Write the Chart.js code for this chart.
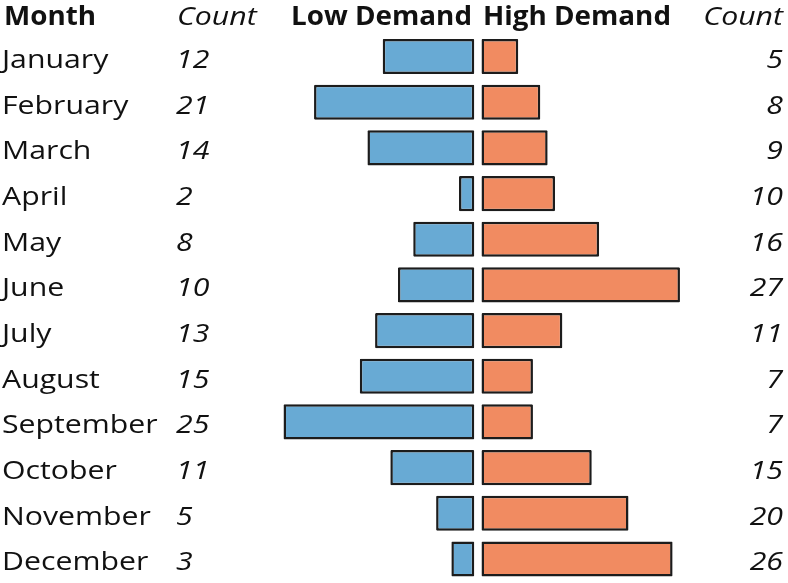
<!DOCTYPE html>
<html>
<head>
<meta charset="utf-8">
<script src="https://cdn.jsdelivr.net/npm/chart.js@4"></script>
<style>
  html, body { margin: 0; padding: 0; background: #fff; }
  #wrap { position: relative; width: 788px; height: 583px; }
</style>
</head>
<body>
<div id="wrap"><canvas id="demandChart"></canvas></div>
<script>
const months = ["January", "February", "March", "April", "May", "June", "July",
  "August", "September", "October", "November", "December"];
const lowDemand = [12, 21, 14, 2, 8, 10, 13, 15, 25, 11, 5, 3];
const highDemand = [5, 8, 9, 10, 16, 27, 11, 7, 7, 15, 20, 26];
const headerLabels = ["Month", "Count", "Low Demand", "High Demand", "Count"];

const FONT = "'Open Sans', sans-serif";
const TEXT = "#111";
// the source picture is a bit stretched sideways
const SX = 1.21;
const SX_BOLD = 1.03;

function text(ctx, str, x, y, align, font, sx) {
  ctx.save();
  ctx.font = font;
  ctx.textAlign = align;
  ctx.translate(x, y);
  ctx.scale(sx || SX, 1);
  ctx.fillText(str, 0, 0);
  ctx.restore();
}

// draws the header row and the month / count columns next to the bars
const tablePlugin = {
  id: "tableText",
  afterDraw(chart) {
    const ctx = chart.ctx;
    const y = chart.scales.y;
    ctx.save();
    ctx.fillStyle = TEXT;
    ctx.textBaseline = "alphabetic";

    const bold = "bold 27px " + FONT;
    const ital = "italic 25px " + FONT;
    const reg = "25px " + FONT;
    text(ctx, headerLabels[0], 4, 25, "left", bold, SX_BOLD);
    text(ctx, headerLabels[1], 177, 25, "left", ital);
    text(ctx, headerLabels[2], 472, 25, "right", bold, SX_BOLD);
    text(ctx, headerLabels[3], 483, 25, "left", bold, SX_BOLD);
    text(ctx, headerLabels[4], 783, 25, "right", ital);

    months.forEach((m, i) => {
      const py = y.getPixelForValue(i) + 11.5;
      text(ctx, m, 2, py, "left", reg);
      text(ctx, String(lowDemand[i]), 176, py, "left", ital);
      text(ctx, String(highDemand[i]), 783, py, "right", ital);
    });
    ctx.restore();
  }
};

new Chart(document.getElementById("demandChart"), {
  type: "bar",
  data: {
    labels: months,
    datasets: [
      {
        label: "Low Demand",
        data: lowDemand,
        xAxisID: "xLow",
        backgroundColor: "#68aad4",
        borderColor: "#1c1c1c",
        borderWidth: 2.5,
        borderSkipped: false,
        borderRadius: 1,
        grouped: false,
        barPercentage: 0.77,
        categoryPercentage: 1
      },
      {
        label: "High Demand",
        data: highDemand,
        xAxisID: "xHigh",
        backgroundColor: "#f18b61",
        borderColor: "#1c1c1c",
        borderWidth: 2.5,
        borderSkipped: false,
        borderRadius: 1,
        grouped: false,
        barPercentage: 0.77,
        categoryPercentage: 1
      }
    ]
  },
  options: {
    indexAxis: "y",
    responsive: true,
    maintainAspectRatio: false,
    animation: false,
    layout: { padding: { top: 33.7, bottom: 1.2, left: 0, right: 0 } },
    plugins: {
      legend: { display: false },
      tooltip: { enabled: false }
    },
    scales: {
      y: { display: false, offset: true },
      // low demand grows to the left from x=474
      xLow: { type: "linear", display: false, reverse: true, min: -41.12, max: 62.16 },
      // high demand grows to the right from x=481.5
      xHigh: { type: "linear", display: false, min: -65.51, max: 41.70 }
    }
  },
  plugins: [tablePlugin]
});
</script>
</body>
</html>
